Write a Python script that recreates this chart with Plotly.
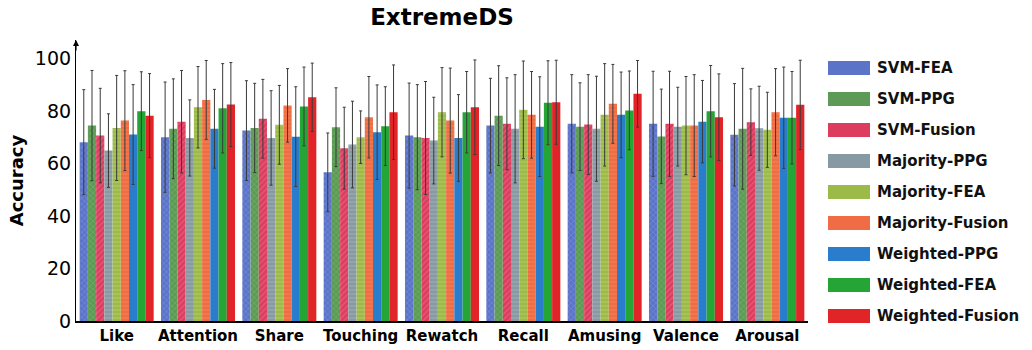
import plotly.graph_objects as go

categories = ["Like", "Attention", "Share", "Touching", "Rewatch", "Recall", "Amusing", "Valence", "Arousal"]
series_names = ["SVM-FEA", "SVM-PPG", "SVM-Fusion", "Majority-PPG", "Majority-FEA",
                "Majority-Fusion", "Weighted-PPG", "Weighted-FEA", "Weighted-Fusion"]

svm_fea = [68.1, 70.0, 72.5, 56.6, 70.6, 74.4, 75.1, 75.1, 70.9]
svm_ppg = [74.4, 73.2, 73.5, 73.8, 70.0, 78.2, 74.0, 70.3, 73.2]
svm_fusion = [70.6, 75.9, 77.0, 65.8, 69.7, 75.1, 74.8, 75.1, 75.7]
maj_ppg = [64.9, 69.7, 69.7, 67.2, 68.7, 73.2, 73.2, 74.0, 73.4]
maj_fea = [73.5, 81.4, 74.7, 70.0, 79.5, 80.4, 78.5, 74.4, 72.8]
maj_fusion = [76.3, 84.2, 82.1, 77.6, 76.3, 78.5, 82.7, 74.4, 79.5]
w_ppg = [71.0, 73.2, 70.2, 71.9, 69.7, 74.0, 78.5, 75.9, 77.4]
w_fea = [79.9, 81.0, 81.7, 74.2, 79.5, 83.1, 80.2, 79.9, 77.4]
w_fusion = [78.2, 82.4, 85.2, 79.5, 81.4, 83.3, 86.5, 77.6, 82.3]

svm_fea_err = [20, 21, 19, 15, 20, 18, 18.7, 20, 19.5]
svm_ppg_err = [21, 19, 17, 15, 20, 19, 16.7, 18, 23]
svm_fusion_err = [18, 19.5, 15, 15.6, 21.5, 17.5, 19, 20, 12.7]
maj_ppg_err = [14, 14.5, 18, 16.5, 16.5, 20.6, 20, 15, 16]
maj_fea_err = [20, 15.5, 15, 10, 17, 18.6, 19.5, 18.7, 14.3]
maj_fusion_err = [19, 15, 14, 15.5, 20, 16.5, 15, 19.4, 16.6]
w_ppg_err = [19, 15, 19, 18, 16.5, 19, 16.3, 15.7, 19.3]
w_fea_err = [15, 17, 15, 15, 15.5, 16, 15, 17.4, 17.6]
w_fusion_err = [16, 16, 13, 18, 18, 16, 12.7, 16.5, 17]

values = [svm_fea, svm_ppg, svm_fusion, maj_ppg, maj_fea, maj_fusion, w_ppg, w_fea, w_fusion]
errors = [svm_fea_err, svm_ppg_err, svm_fusion_err, maj_ppg_err, maj_fea_err,
          maj_fusion_err, w_ppg_err, w_fea_err, w_fusion_err]

colors = ["#5b74c8", "#5c9a55", "#dc3d5e", "#8799a3", "#9cba48",
          "#f06c44", "#2a7ccc", "#25a535", "#e02428"]
pattern_fg = ["#8fa2e6", "#86c07c", "#f27a93", "#b0bcc2", "#c0d676",
              "#f4905f", None, None, None]
pattern_shapes = ["x", "x", "/", "-", "-", "-", "", "", ""]

FONT = "DejaVu Sans, Verdana, sans-serif"

fig = go.Figure()
for i, name in enumerate(series_names):
    marker = dict(color=colors[i], line=dict(width=0))
    if pattern_shapes[i]:
        marker["pattern"] = dict(shape=pattern_shapes[i], fgcolor=pattern_fg[i],
                                 size=4, solidity=0.3, fillmode="overlay")
    fig.add_trace(go.Bar(
        name=name, x=categories, y=values[i], marker=marker,
        error_y=dict(type="data", array=errors[i], visible=True,
                     color="#3a3a3a", thickness=1, width=1.5),
        showlegend=False,
    ))

L, R, T, B = 76, 224, 40, 29
W, H = 1032, 350
pw = W - L - R
ph = H - T - B

def px_x(p):
    return (p - L) / pw

def px_y(p):
    return (H - B - p) / ph

shapes = []
annotations = []
for i, name in enumerate(series_names):
    yc = 68 + i * 31
    shapes.append(dict(type="rect", xref="paper", yref="paper",
                       x0=px_x(828), x1=px_x(870), y0=px_y(yc + 7), y1=px_y(yc - 7),
                       fillcolor=colors[i], line=dict(width=0), layer="above"))
    annotations.append(dict(xref="paper", yref="paper", x=px_x(875), y=px_y(yc),
                            text="<b>%s</b>" % name, showarrow=False,
                            xanchor="left", yanchor="middle",
                            font=dict(family=FONT, size=15, color="#111")))

annotations.append(dict(xref="paper", yref="paper", x=0, y=1.0, ax=0, ay=12,
                        text="", showarrow=True, arrowhead=2, arrowsize=1,
                        arrowwidth=1.2, arrowcolor="#000"))

fig.update_layout(
    width=W, height=H,
    margin=dict(l=L, r=R, t=T, b=B, autoexpand=False),
    barmode="group", bargap=0.09, bargroupgap=0,
    plot_bgcolor="white", paper_bgcolor="white",
    title=dict(text="<b>ExtremeDS</b>", x=0.5, xref="paper", y=1 - 17 / H,
               yref="container", yanchor="middle",
               font=dict(family=FONT, size=23, color="#000")),
    font=dict(family=FONT, color="#000"),
    shapes=shapes, annotations=annotations,
    xaxis=dict(showline=True, linecolor="#000", linewidth=1.5, ticks="",
               tickfont=dict(family=FONT, size=15, color="#000"),
               ticklabelstandoff=0, automargin=False,
               tickprefix="<b>", ticksuffix="</b>", range=[-0.5, 8.5]),
    yaxis=dict(range=[0, 107], tickvals=[0, 20, 40, 60, 80, 100],
               showline=True, linecolor="#000", linewidth=1.2, showgrid=False,
               zeroline=False, ticks="", automargin=False,
               tickfont=dict(family=FONT, size=19, color="#000"),
               tickprefix="<b>", ticksuffix="</b>",
               title=dict(text="<b>Accuracy</b>", font=dict(family=FONT, size=18), standoff=6)),
)

fig.write_html("out.html")
